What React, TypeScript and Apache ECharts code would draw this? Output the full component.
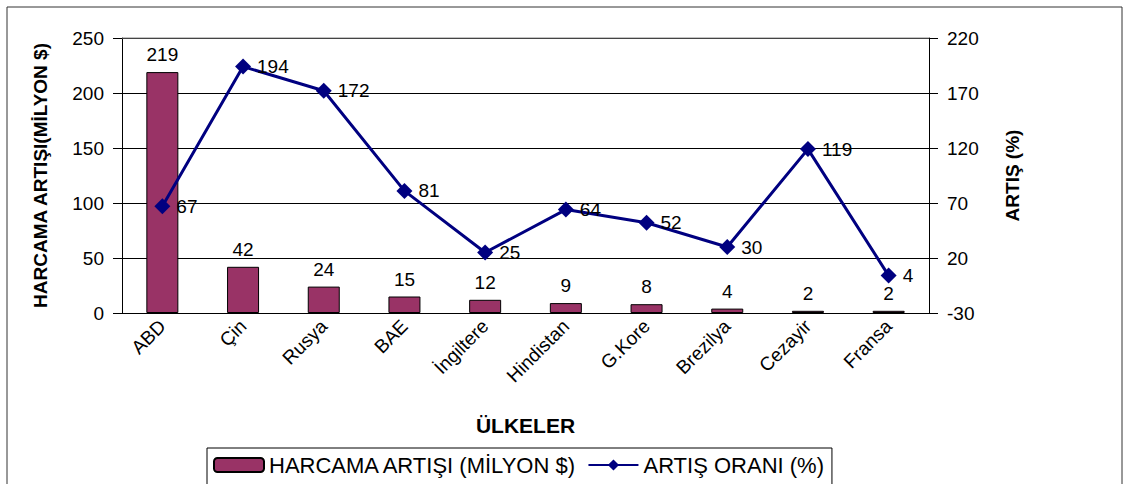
import React, { useEffect, useRef } from "react";
import * as echarts from "echarts";

const categories = ["ABD", "Çin", "Rusya", "BAE", "İngiltere", "Hindistan", "G.Kore", "Brezilya", "Cezayir", "Fransa"];
const spending = [219, 42, 24, 15, 12, 9, 8, 4, 2, 2];
const growth = [67, 194, 172, 81, 25, 64, 52, 30, 119, 4];

const FONT = "'Liberation Sans', Arial, sans-serif";

export default function App() {
  const ref = useRef<HTMLDivElement>(null);
  useEffect(() => {
    if (!ref.current) return;
    const chart = echarts.init(ref.current, undefined, { renderer: "svg" });
    chart.setOption({
      animation: false,
      backgroundColor: "#fff",
      textStyle: { fontFamily: FONT },
      graphic: [
        {
          type: "rect",
          shape: { x: 7, y: 7, width: 1115, height: 490 },
          style: { fill: "none", stroke: "#333", lineWidth: 1 },
          silent: true,
        },
        {
          type: "line",
          shape: { x1: 122, y1: 38, x2: 929, y2: 38 },
          style: { stroke: "#888", lineWidth: 1 },
          z: 10,
        },
      ],
      grid: { left: 122, right: 203, top: 38, bottom: 171 },
      legend: {
        left: 207,
        top: 448,
        padding: [6, 8, 14, 6],
        borderColor: "#000",
        borderWidth: 1,
        itemGap: 10,
        itemWidth: 50,
        itemHeight: 14,
        textStyle: { fontSize: 22, color: "#000", fontFamily: FONT },
        data: ["HARCAMA ARTIŞI (MİLYON $)", "ARTIŞ ORANI (%)"],
      },
      xAxis: {
        type: "category",
        data: categories,
        name: "ÜLKELER",
        nameLocation: "middle",
        nameGap: 102,
        nameTextStyle: { fontSize: 21, fontWeight: "bold", color: "#000" },
        axisLine: { lineStyle: { color: "#000" } },
        axisTick: { show: false },
        axisLabel: { rotate: 45, fontSize: 19, color: "#000", margin: 10, interval: 0 },
      },
      yAxis: [
        {
          type: "value",
          min: 0,
          max: 250,
          interval: 50,
          name: "HARCAMA ARTIŞI(MİLYON $)",
          nameLocation: "middle",
          nameGap: 72,
          nameTextStyle: { fontSize: 19, fontWeight: "bold", color: "#000" },
          axisLine: { show: true, lineStyle: { color: "#000" } },
          axisTick: { show: true, length: 9, lineStyle: { color: "#000" } },
          axisLabel: { fontSize: 19, color: "#000", margin: 18 },
          splitLine: { show: true, lineStyle: { color: "#000", width: 1 } },
        },
        {
          type: "value",
          min: -30,
          max: 220,
          interval: 50,
          name: "ARTIŞ (%)",
          nameLocation: "middle",
          nameGap: 74,
          nameTextStyle: { fontSize: 19, fontWeight: "bold", color: "#000" },
          axisLine: { show: true, lineStyle: { color: "#000" } },
          axisTick: { show: true, length: 9, lineStyle: { color: "#000" } },
          axisLabel: { fontSize: 19, color: "#000", margin: 18 },
          splitLine: { show: false },
        },
      ],
      series: [
        {
          name: "HARCAMA ARTIŞI (MİLYON $)",
          type: "bar",
          data: spending,
          yAxisIndex: 0,
          barWidth: 32,
          itemStyle: { color: "#993366", borderColor: "#000", borderWidth: 1 },
          label: { show: true, position: "top", distance: 8, fontSize: 19, color: "#000" },
        },
        {
          name: "ARTIŞ ORANI (%)",
          type: "line",
          data: growth,
          yAxisIndex: 1,
          symbol: "diamond",
          symbolSize: 16,
          lineStyle: { color: "#000080", width: 3 },
          itemStyle: { color: "#000080" },
          label: { show: true, position: "right", distance: 6, fontSize: 19, color: "#000" },
          z: 5,
        },
      ],
    });
    return () => chart.dispose();
  }, []);
  return (
    <div
      ref={ref}
      style={{ position: "absolute", left: 0, top: 0, width: 1132, height: 484 }}
    />
  );
}
